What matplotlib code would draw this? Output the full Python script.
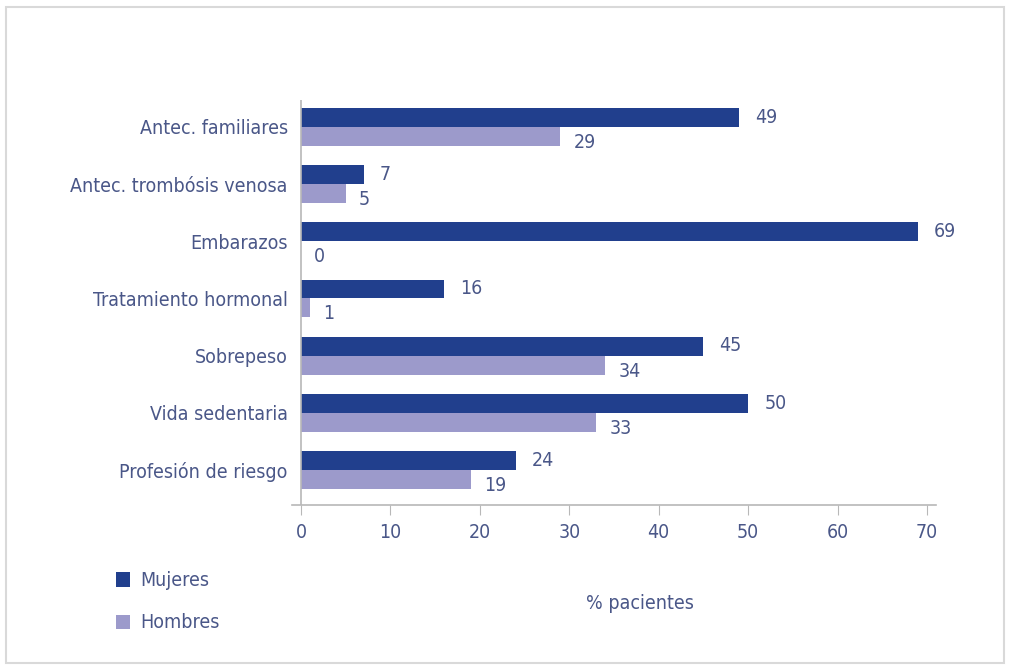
import numpy as np
import matplotlib
matplotlib.use("Agg")
import matplotlib.pyplot as plt
from matplotlib.patches import Rectangle

# -------------------------------
# Data
# -------------------------------
categories = ["Antec. familiares", "Antec. trombósis venosa", "Embarazos",
              "Tratamiento hormonal", "Sobrepeso", "Vida sedentaria",
              "Profesión de riesgo"]
mujeres = [49, 7, 69, 16, 45, 50, 24]
hombres = [29, 5, 0, 1, 34, 33, 19]
x_ticks = [0, 10, 20, 30, 40, 50, 60, 70]

dark = "#213f8d"
light = "#9c9acb"
txt = "#4a5788"
plt.rcParams["font.family"] = ["Liberation Sans Narrow", "DejaVu Sans"]
plt.rcParams["font.stretch"] = "condensed"

fig = plt.figure(figsize=(10.1, 6.7), dpi=100)
fig.patches.append(Rectangle((0.006, 0.01), 0.988, 0.98, transform=fig.transFigure,
                             fill=False, edgecolor="#d9d9d9", linewidth=1.5))

ax = fig.add_axes([292 / 1010, 1 - 505 / 670, 644 / 1010, 405 / 670])

y = np.arange(len(categories))
h = 0.33
ax.barh(y - 0.165, mujeres, height=h, color=dark, label="Mujeres")
ax.barh(y + 0.165, hombres, height=h, color=light, label="Hombres")

# value labels
for yi, m, w in zip(y, mujeres, hombres):
    ax.text(m + 1.8, yi - 0.17, str(m), va="center", ha="left",
            fontsize=14, color=txt)
    ax.text(w + 1.5, yi + 0.27, str(w), va="center", ha="left",
            fontsize=14, color=txt)

ax.set_xlim(-1, 71)
ax.set_ylim(6.61, -0.47)
ax.axvline(0, color="#b8b8b8", linewidth=1.2)

for s in ["top", "right", "left"]:
    ax.spines[s].set_visible(False)
ax.spines["bottom"].set_color("#b8b8b8")
ax.spines["bottom"].set_linewidth(1.2)

ax.set_xticks(x_ticks)
ax.tick_params(axis="x", direction="out", length=7, color="#b8b8b8",
               labelsize=14, labelcolor=txt, pad=6)
ax.set_yticks(y)
ax.set_yticklabels(categories)
ax.tick_params(axis="y", length=0, labelsize=14, labelcolor=txt, pad=3)

ax.set_xlabel("% pacientes", fontsize=14, color=txt)
ax.xaxis.set_label_coords((640 - 292) / 644, -(594 - 505) / 405)

fig.legend(loc="lower left", bbox_to_anchor=(98 / 1010, 1 - 650 / 670),
           frameon=False, fontsize=14, labelcolor=txt,
           handlelength=0.75, handleheight=0.75, handletextpad=0.5,
           labelspacing=1.2)

fig.savefig("out.png", dpi=100)
